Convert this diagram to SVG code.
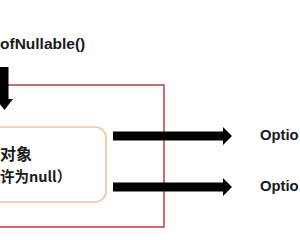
<svg xmlns="http://www.w3.org/2000/svg" width="300" height="240" viewBox="0 0 300 240">
<style>
.lbl{font-family:"Liberation Sans","Noto Sans CJK SC",sans-serif;font-weight:bold;fill:#1a1a1a}
.cjk{font-family:"Noto Sans CJK SC","Liberation Sans",sans-serif;font-weight:bold;fill:#1a1a1a}
.arrow{fill:#000}
</style>
<rect width="300" height="240" fill="#fff"/>
<g id="frame">
<rect x="-50" y="85" width="214" height="142" fill="none" stroke="#c9706b" stroke-width="2"/>
</g>
<g id="title">
<text class="lbl" x="0" y="49" font-size="15.5">ofNullable()</text>
</g>
<g id="input">
<rect x="-40" y="127" width="146" height="75" rx="11" fill="#fff" stroke="#f2c29a" stroke-width="1.5"/>
<text class="cjk" x="0" y="160" font-size="16">对象</text>
<text class="cjk" x="0" y="182" font-size="14.5">许为null）</text>
</g>
<g id="out1">
<text class="lbl" x="260" y="140" font-size="14.8">Optio</text>
</g>
<g id="out2">
<text class="lbl" x="260" y="191" font-size="14.8">Optio</text>
</g>
<g id="connectors">
<polygon class="arrow" points="0,67 8.5,67 8.5,99 13,99 4.5,110 -4,99 0,99"/>
<polygon class="arrow" points="113,131.5 223,131.5 223,127 232,136 223,145 223,140.5 113,140.5"/>
<polygon class="arrow" points="113,182.5 223,182.5 223,178 232,187 223,196 223,191.5 113,191.5"/>
</g>
</svg>
